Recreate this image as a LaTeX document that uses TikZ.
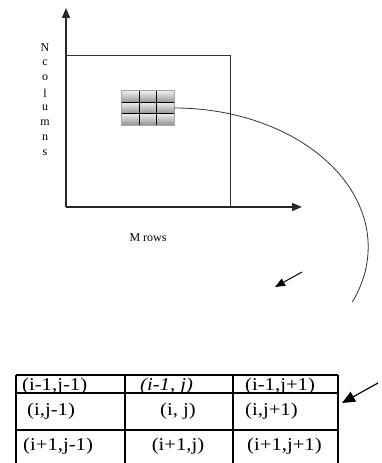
\documentclass[tikz,border=0pt]{standalone}
\usepackage{fontspec}
\setmainfont{Liberation Serif}
\usetikzlibrary{arrows.meta,positioning,calc}

\newcommand{\wide}[1]{\scalebox{1.15}[1]{#1}}

\begin{document}
\begin{tikzpicture}[
    x=1pt, y=1pt,
    axis/.style={line width=1.3pt, draw=black!85, -{Triangle[length=10pt,width=8pt]}},
    frame/.style={draw=black!80, line width=1pt, minimum width=164pt, minimum height=151pt, inner sep=0pt},
    pointer/.style={line width=1pt, -{Triangle[length=10pt,width=8pt]}},
    bigpointer/.style={line width=1.2pt, -{Triangle[length=13pt,width=11pt]}},
    axislabel/.style={font=\fontsize{12}{13}\selectfont, inner sep=0pt},
    cell/.style={font=\fontsize{18}{19}\selectfont, inner sep=0pt, anchor=west},
    rule/.style={line width=1.5pt}
  ]
  \useasboundingbox (0,0) rectangle (382,463);

  % axes and image frame
  \coordinate (orig) at (66,256);
  \coordinate (ytop) at (66,455);
  \coordinate (xend) at (302,256);
  \node[frame, anchor=south west] (img) at (orig) {};
  \draw[axis] (orig) -- (ytop);
  \draw[axis] (orig) -- (xend);

  \foreach \ch [count=\k] in {N,c,o,l,u,m,n,s}
    \node[axislabel] (lt\k) at (45,430-15*\k) {\ch};
  \node[axislabel] (mrows) at (148,225) {M rows};

  % small block of pixels
  \node[minimum width=52pt, minimum height=34pt, inner sep=0pt] (block) at (148,355) {};
  \foreach \i in {0,1,2}
    \foreach \j in {0,1,2}
      \shade[shading=axis, shading angle=-60, top color=gray!15, bottom color=gray!85]
        ($(block.south west)+(\i*52/3,\j*34/3)$) rectangle +(52/3,34/3);
  \draw[gray!70, line width=0.8pt] (block.south west) rectangle (block.north east);
  \foreach \i in {1,2} {
    \draw[line width=1pt] ($(block.south west)!\i/3!(block.south east)$) -- ($(block.north west)!\i/3!(block.north east)$);
    \draw[line width=1pt] ($(block.south west)!\i/3!(block.north west)$) -- ($(block.south east)!\i/3!(block.north east)$);
  }

  % zoom curve and arrows
  \draw[line width=0.8pt, black!80] (block.east) arc[start angle=90, end angle=-23.3, x radius=194pt, y radius=139pt] coordinate (arcend);
  \coordinate (sa1) at (302,191);
  \coordinate (sa2) at (275,176);
  \draw[pointer] (sa1) -- (sa2);

  % neighbourhood table
  \draw[rule] (16,88) -- (338,88);
  \draw[rule] (16,70) -- (338,70);
  \draw[rule] (16,33) -- (338,33);
  \foreach \x in {16,125,233,338}
    \draw[rule] (\x,88) -- (\x,0);

  \node[cell] (c11) at (22,77) {\wide{(i-1,j-1)}};
  \node[cell] (c12) at (140,77) {\wide{\textit{(i-1, j)}}};
  \node[cell] (c13) at (245,77) {\wide{(i-1,j+1)}};
  \node[cell] (c21) at (27,52) {\wide{(i,j-1)}};
  \node[cell, anchor=center] (c22) at (178,52) {\wide{(i, j)}};
  \node[cell] (c23) at (245,52) {\wide{(i,j+1)}};
  \node[cell] (c31) at (23,17) {\wide{(i+1,j-1)}};
  \node[cell, anchor=center] (c32) at (178,17) {\wide{(i+1,j)}};
  \node[cell] (c33) at (247,17) {\wide{(i+1,j+1)}};

  \coordinate (ta) at (378,80);
  \coordinate (tatip) at (342,60);
  \draw[bigpointer] (ta) -- (tatip);
\end{tikzpicture}
\end{document}
